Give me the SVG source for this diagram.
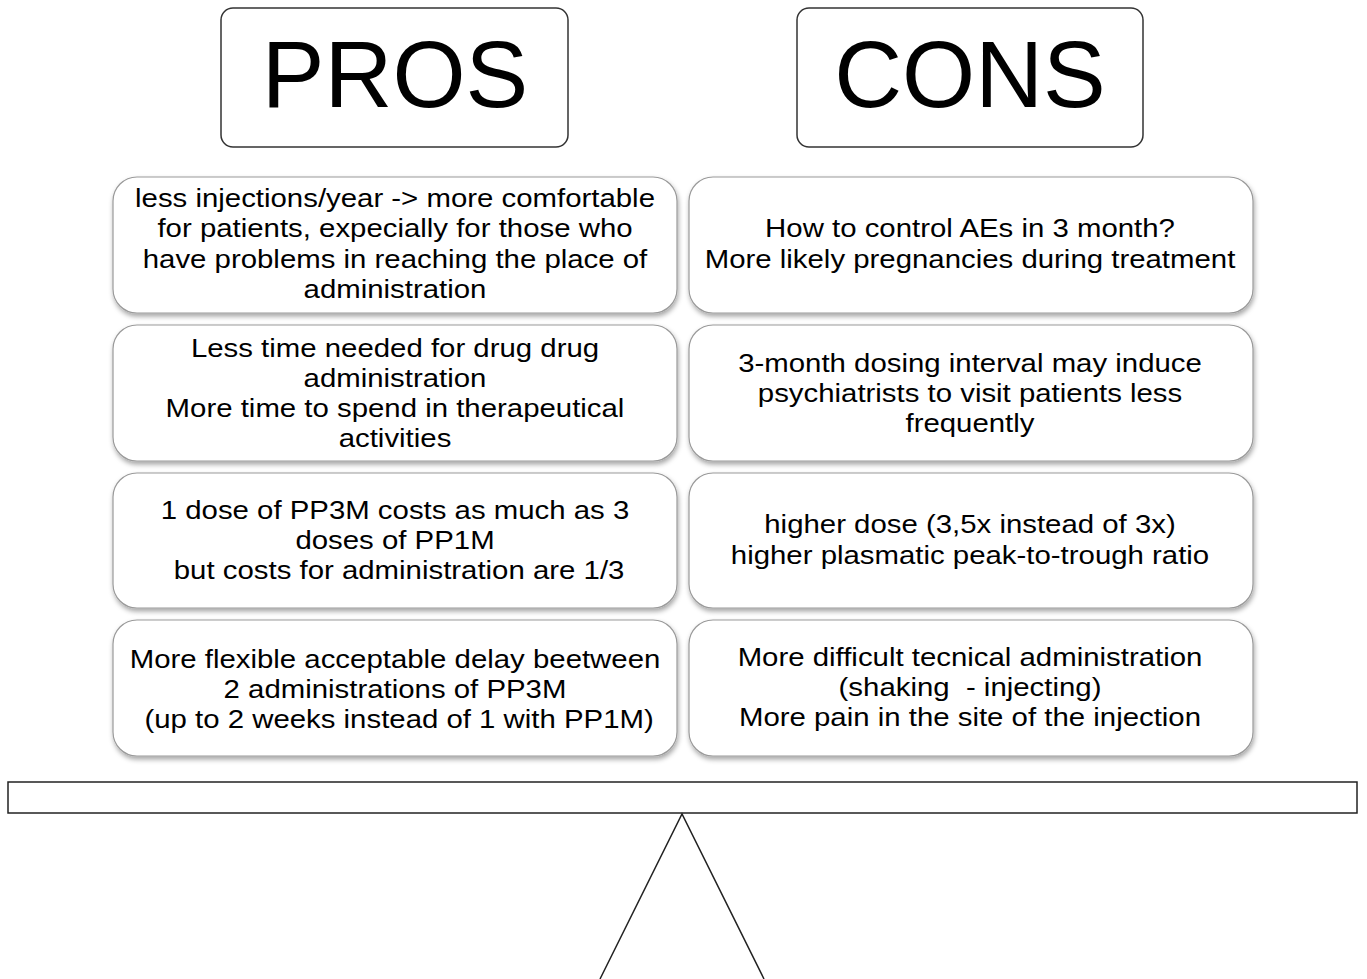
<svg xmlns="http://www.w3.org/2000/svg" width="1367" height="979" viewBox="0 0 1367 979">
<defs>
<filter id="sh" x="-10%" y="-10%" width="120%" height="130%">
<feDropShadow dx="1" dy="3" stdDeviation="2.5" flood-color="#000" flood-opacity="0.35"/>
</filter>
<style>
.hdr{fill:#fff;stroke:#333;stroke-width:1.5}
.box{fill:#fff;stroke:#9a9a9a;stroke-width:1.2;filter:url(#sh)}
.ht{font-family:"Liberation Sans",Arial,sans-serif;font-size:94px;fill:#000;text-anchor:middle}
.t{font-family:"Liberation Sans",Arial,sans-serif;font-size:26px;fill:#000;text-anchor:middle;white-space:pre}
.ln{fill:none;stroke:#222;stroke-width:1.5}
</style>
</defs>
<rect width="1367" height="979" fill="#fff"/>
<g id="pros-header"><rect class="hdr" x="221" y="8" width="347" height="139" rx="12"/><text class="ht" x="395" y="107">PROS</text></g>
<g id="cons-header"><rect class="hdr" x="797" y="8" width="346" height="139" rx="12"/><text class="ht" x="970" y="107">CONS</text></g>

<g id="pro1"><rect class="box" x="113" y="177" width="564" height="136" rx="24"/>
<text class="t" transform="translate(395 0) scale(1.13 1)"><tspan x="0" y="207">less injections/year -&gt; more comfortable</tspan><tspan x="0" y="237">for patients, expecially for those who</tspan><tspan x="0" y="268">have problems in reaching the place of</tspan><tspan x="0" y="298">administration</tspan></text></g>
<g id="con1"><rect class="box" x="689" y="177" width="564" height="136" rx="24"/>
<text class="t" transform="translate(970 0) scale(1.13 1)"><tspan x="0" y="237">How to control AEs in 3 month?</tspan><tspan x="0" y="268">More likely pregnancies during treatment</tspan></text></g>

<g id="pro2"><rect class="box" x="113" y="325" width="564" height="136" rx="24"/>
<text class="t" transform="translate(395 0) scale(1.13 1)"><tspan x="0" y="357">Less time needed for drug drug</tspan><tspan x="0" y="387">administration</tspan><tspan x="0" y="417">More time to spend in therapeutical</tspan><tspan x="0" y="447">activities</tspan></text></g>
<g id="con2"><rect class="box" x="689" y="325" width="564" height="136" rx="24"/>
<text class="t" transform="translate(970 0) scale(1.13 1)"><tspan x="0" y="372">3-month dosing interval may induce</tspan><tspan x="0" y="402">psychiatrists to visit patients less</tspan><tspan x="0" y="432">frequently</tspan></text></g>

<g id="pro3"><rect class="box" x="113" y="473" width="564" height="135" rx="24"/>
<text class="t" transform="translate(395 0) scale(1.13 1)"><tspan x="0" y="519">1 dose of PP3M costs as much as 3</tspan><tspan x="0" y="549">doses of PP1M</tspan><tspan x="0" y="579"> but costs for administration are 1/3</tspan></text></g>
<g id="con3"><rect class="box" x="689" y="473" width="564" height="135" rx="24"/>
<text class="t" transform="translate(970 0) scale(1.13 1)"><tspan x="0" y="533">higher dose (3,5x instead of 3x)</tspan><tspan x="0" y="564">higher plasmatic peak-to-trough ratio</tspan></text></g>

<g id="pro4"><rect class="box" x="113" y="620" width="564" height="136" rx="24"/>
<text class="t" transform="translate(395 0) scale(1.13 1)"><tspan x="0" y="668">More flexible acceptable delay beetween</tspan><tspan x="0" y="698">2 administrations of PP3M</tspan><tspan x="0" y="728"> (up to 2 weeks instead of 1 with PP1M)</tspan></text></g>
<g id="con4"><rect class="box" x="689" y="620" width="564" height="136" rx="24"/>
<text class="t" transform="translate(970 0) scale(1.13 1)"><tspan x="0" y="666">More difficult tecnical administration</tspan><tspan x="0" y="696">(shaking  - injecting)</tspan><tspan x="0" y="726">More pain in the site of the injection</tspan></text></g>

<g id="scale">
<rect class="ln" x="8" y="782" width="1349" height="31"/>
<polyline class="ln" points="600,979 682,814 764,979"/>
</g>
</svg>
